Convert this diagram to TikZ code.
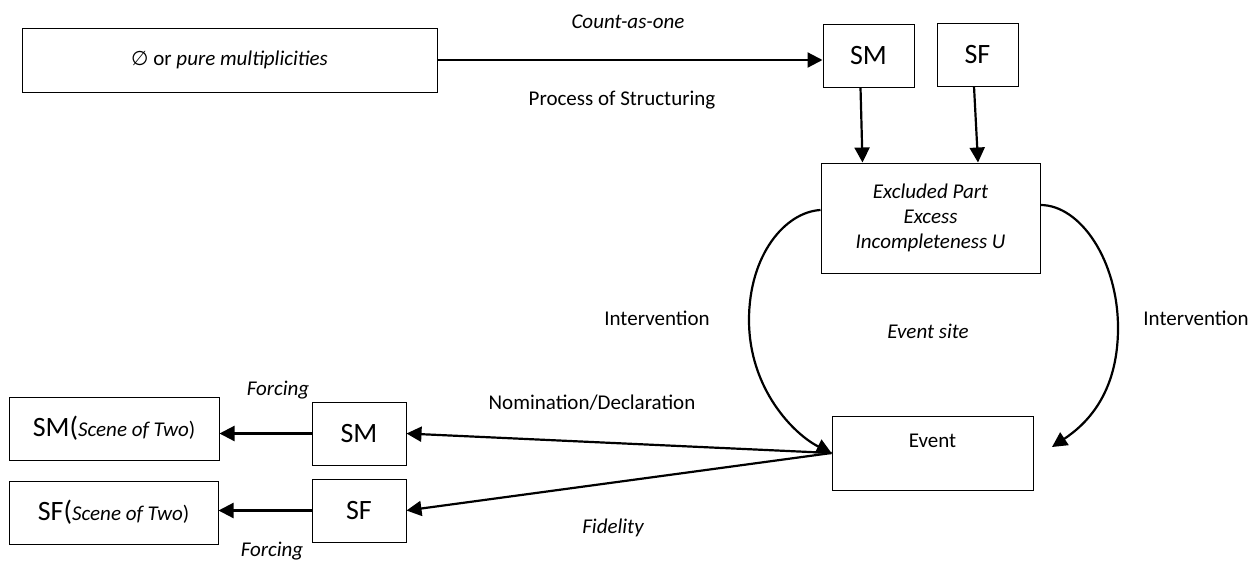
\documentclass[tikz,border=0pt]{standalone}
\usepackage{fontspec}
\setmainfont{Carlito}
\newfontfamily\symbolfont{DejaVu Sans}
\usetikzlibrary{arrows.meta}

\tikzset{
  box/.style={draw, line width=1pt, inner sep=0pt, align=center,
              font=\fontsize{21}{25}\selectfont},
  bigbox/.style={box, font=\fontsize{28}{32}\selectfont},
  lbl/.style={inner sep=0pt, font=\fontsize{21}{25}\selectfont},
  ilbl/.style={lbl, font=\fontsize{21}{25}\selectfont\itshape},
  conn/.style={line width=2.2pt, -{Triangle[length=15pt,width=15pt]}},
}

\begin{document}
\begin{tikzpicture}[x=1pt, y=-1pt]
  \useasboundingbox (0,0) rectangle (1258,560);

  % top row
  \node[box, minimum width=415pt, minimum height=64pt] (pure) at (229.5,60)
    {{\symbolfont\fontsize{20}{24}\selectfont ∅} or \textit{pure multiplicities}};
  \node[bigbox, minimum width=91pt, minimum height=63pt] (smtop) at (868.5,55.5) {SM};
  \node[bigbox, minimum width=81pt, minimum height=63pt] (sftop) at (977.5,54.5) {SF};

  % excluded part
  \node[box, minimum width=219pt, minimum height=110pt, font=\fontsize{21}{25}\selectfont\itshape]
    (excl) at (930.5,218) {Excluded Part\\Excess\\Incompleteness U};

  % event
  \node[box, minimum width=201pt, minimum height=74pt, text height=15pt, text depth=27pt]
    (event) at (932.5,453) {Event};

  % bottom left
  \node[bigbox, minimum width=94pt, minimum height=63pt] (smb) at (359,433.5) {SM};
  \node[bigbox, minimum width=94pt, minimum height=63pt] (sfb) at (359,510.5) {SF};
  \node[bigbox, minimum width=210pt, minimum height=63pt] (smscene) at (114,428.5)
    {SM(\fontsize{21}{24}\selectfont\textit{Scene of Two})};
  \node[bigbox, minimum width=209pt, minimum height=63pt] (sfscene) at (113.5,512.5)
    {SF(\fontsize{21}{24}\selectfont\textit{Scene of Two})};

  % labels
  \node[ilbl] (count) at (628,22) {Count-as-one};
  \node[lbl] (proc) at (622,100) {Process of Structuring};
  \node[lbl] (intl) at (657,318) {Intervention};
  \node[lbl] (intr) at (1196,318) {Intervention};
  \node[ilbl] (esite) at (928,331) {Event site};
  \node[lbl] (nomin) at (592,403) {Nomination/Declaration};
  \node[ilbl] (fidel) at (613,528) {Fidelity};
  \node[ilbl] (forc1) at (278,390) {Forcing};
  \node[ilbl] (forc2) at (272,551) {Forcing};

  \coordinate (rtip) at (1052,447);

  % connectors
  \draw[conn] (pure.east) -- (smtop.west |- pure.east);
  \draw[conn] ([xshift=-8pt]smtop.south) -- ([xshift=-68pt]excl.north);
  \draw[conn] ([xshift=-3.5pt]sftop.south) -- ([xshift=47.5pt]excl.north);

  \draw[conn] ([yshift=8pt]excl.west) .. controls (785,212) and (749,255) .. (749,320)
    .. controls (749,390) and (795,435) .. (event.west);
  \draw[conn] ([yshift=13pt]excl.east) .. controls (1080,205) and (1118,260) .. (1118,328)
    .. controls (1118,395) and (1085,425) .. (rtip);

  \draw[conn] (event.west) -- (smb.east);
  \draw[conn] (event.west) -- (sfb.east);
  \draw[conn] (smb.west) -- (smb.west -| smscene.east);
  \draw[conn] (sfb.west) -- (sfb.west -| sfscene.east);
\end{tikzpicture}
\end{document}
